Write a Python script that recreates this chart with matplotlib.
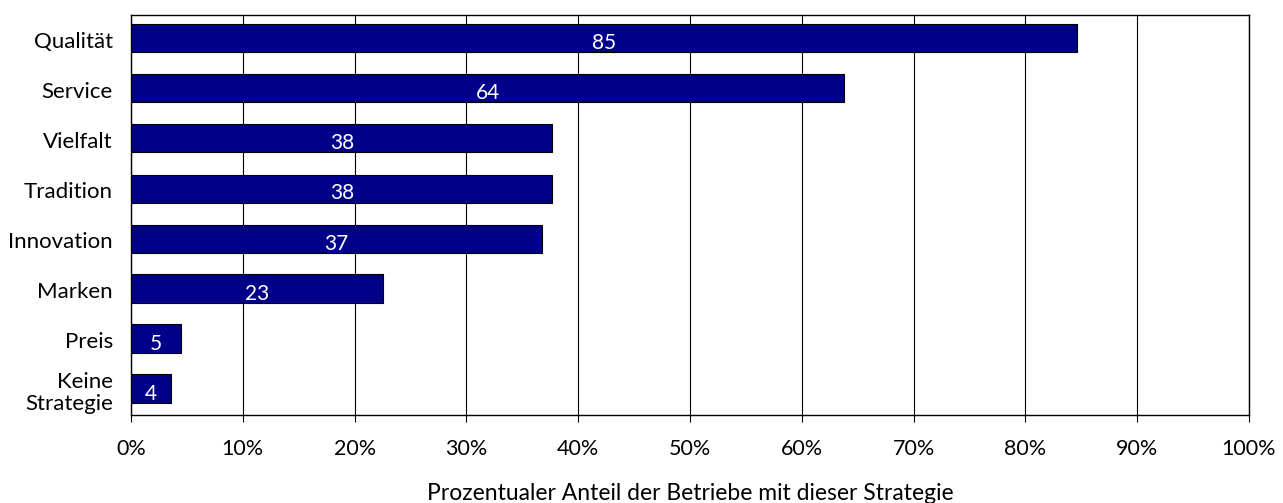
import numpy as np
import matplotlib.pyplot as plt

plt.rcParams['font.family'] = ['Lato', 'DejaVu Sans']

# Daten
kategorien = ["Qualität", "Service", "Vielfalt", "Tradition", "Innovation",
              "Marken", "Preis", "Keine\nStrategie"]
anteile = [84.6, 63.8, 37.7, 37.7, 36.8, 22.5, 4.5, 3.6]
beschriftung = ["85", "64", "38", "38", "37", "23", "5", "4"]
xticks = np.arange(0, 101, 10)

fig = plt.figure(figsize=(12.83, 5.03), dpi=100)
ax = fig.add_axes([131 / 1283, 1 - 415 / 503, (1249 - 131) / 1283, (415 - 15) / 503])

y = np.arange(len(kategorien))
ax.barh(y - 0.03, anteile, height=0.56, color="#000088", edgecolor="black",
        linewidth=0.8, zorder=3)

# Werte in die Balken schreiben
for yi, wert, txt in zip(y, anteile, beschriftung):
    ax.text(wert / 2, yi + 0.07, txt, color="white", ha="center", va="center",
            fontsize=15, zorder=4)

ax.set_xlim(0, 100)
ax.set_ylim(len(kategorien) - 0.5, -0.5)
ax.set_yticks(y)
ax.set_yticklabels(kategorien, fontsize=16, linespacing=1.1)
ax.set_xticks(xticks)
ax.set_xticklabels([f"{t}%" for t in xticks], fontsize=15.5)
ax.tick_params(axis="y", length=0, pad=13)
ax.tick_params(axis="x", length=5, width=0.8, direction="out", pad=12)
ax.xaxis.grid(True, color="black", linewidth=0.8, zorder=0)
for s in ax.spines.values():
    s.set_linewidth(1.0)

# Achsentitel unter dem Diagramm
fig.text(690 / 1283, 1 - 493 / 503,
         "Prozentualer Anteil der Betriebe mit dieser Strategie",
         fontsize=16.5, ha="center", va="center")

fig.savefig("out.png", dpi=100)
